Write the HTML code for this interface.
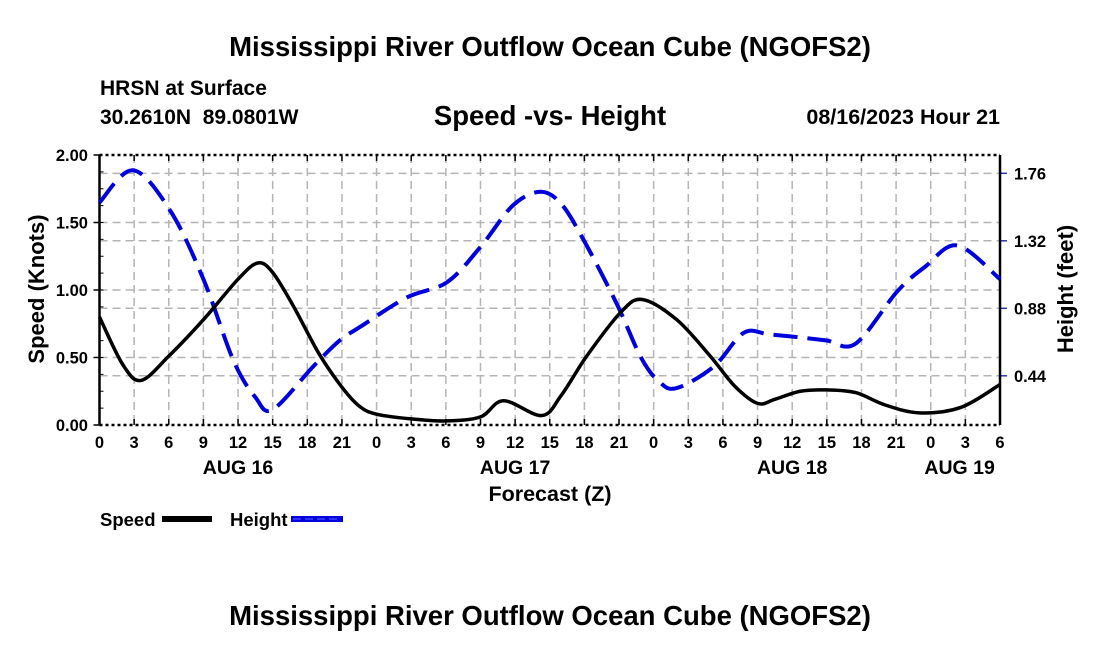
<!DOCTYPE html>
<html><head><meta charset="utf-8"><style>
body{margin:0;background:#fff;}
svg{display:block;font-family:"Liberation Sans",Arial,sans-serif;font-weight:bold;}
</style></head><body>
<svg id="c" width="1100" height="650" viewBox="0 0 1100 650">
<text x="550" y="56" text-anchor="middle" font-size="27.5">Mississippi River Outflow Ocean Cube (NGOFS2)</text>
<text x="100" y="95" font-size="21">HRSN at Surface</text>
<text x="100" y="124" font-size="21">30.2610N&#160; 89.0801W</text>
<text x="550" y="125" text-anchor="middle" font-size="27.5">Speed -vs- Height</text>
<text x="1000" y="124" text-anchor="end" font-size="21.5">08/16/2023 Hour 21</text>
<g id="grid"></g>
<g id="axes"></g>
<g id="series"></g>
<text transform="translate(44,289) rotate(-90)" text-anchor="middle" font-size="22">Speed (Knots)</text>
<text transform="translate(1073,289) rotate(-90)" text-anchor="middle" font-size="22">Height (feet)</text>
<text x="550" y="501" text-anchor="middle" font-size="21.5">Forecast (Z)</text>
<g>
<text x="100" y="526" font-size="18.5">Speed</text>
<rect x="162" y="516" width="50" height="6" fill="#000"/>
<text x="230" y="526" font-size="18.5">Height</text>
<rect x="291" y="516" width="52" height="6" fill="#0000dd"/>
<line x1="293" y1="519" x2="341" y2="519" stroke="#4040ff" stroke-width="1.5" stroke-dasharray="8 4"/>
</g>
<text x="550" y="625" text-anchor="middle" font-size="27.5">Mississippi River Outflow Ocean Cube (NGOFS2)</text>
</svg>
<script>
const speedHours=[0,2,3.6,6,9,12,13.7,15,16.8,19,21,22.5,24,27,30,33,35,38.3,40,42.2,45.1,47,50,52.9,55,57,58.5,60.7,63,65.5,68,71,74.6,78];
const speedVals=[0.80,0.45,0.33,0.51,0.78,1.08,1.20,1.13,0.88,0.53,0.28,0.14,0.08,0.045,0.03,0.06,0.18,0.07,0.22,0.51,0.83,0.93,0.78,0.51,0.29,0.16,0.19,0.25,0.26,0.24,0.15,0.09,0.13,0.30];
const heightHours=[0,2.9,6.1,9,11.6,13.5,15,18.5,20.8,22.6,26.6,30.1,33,35.8,38.2,40,41.9,44.8,46.9,48.5,50,53.2,55.8,58,60.7,63,65.5,69.1,71.5,74.3,78];
const heightVals=[1.57,1.78,1.52,1.07,0.54,0.30,0.22,0.50,0.67,0.76,0.95,1.05,1.28,1.55,1.64,1.56,1.33,0.91,0.56,0.40,0.36,0.50,0.72,0.71,0.69,0.67,0.65,0.99,1.15,1.29,1.07];
const speedTicks=["0.00","0.50","1.00","1.50","2.00"];
const heightTicks=["0.44","0.88","1.32","1.76"];
const hourLabels=["0","3","6","9","12","15","18","21","0","3","6","9","12","15","18","21","0","3","6","9","12","15","18","21","0","3","6"];
const dayLabels=["AUG 16","AUG 17","AUG 18","AUG 19"];
const dayHours=[12,36,60,74.5];

const X0=99.5,X1=1000,Y0=425,Y1=155,HMAX=78;
const xs=h=>X0+(X1-X0)*h/HMAX;
const ys=v=>Y0-(Y0-Y1)*v/2;
const yh=v=>443.3-153.4*v;
const NS="http://www.w3.org/2000/svg";
function mk(tag,attrs,parent){const e=document.createElementNS(NS,tag);for(const k in attrs)e.setAttribute(k,attrs[k]);parent.appendChild(e);return e;}
const grid=document.getElementById('grid'),axes=document.getElementById('axes'),series=document.getElementById('series');
const gs={stroke:"#b4b4b4","stroke-width":1.5,"stroke-dasharray":"8 5",fill:"none"};
hourLabels.forEach((l,i)=>{const x=xs(i*3);
 if(i>0&&i<hourLabels.length-1){const g=mk('line',Object.assign({x1:x,x2:x,y1:Y1,y2:Y0},gs),grid);}
 mk('line',{x1:x,x2:x,y1:Y0,y2:Y0-6,stroke:"#000","stroke-width":1.5},axes);
 mk('line',{x1:x,x2:x,y1:Y1,y2:Y1+6,stroke:"#000","stroke-width":1.5},axes);
 const t=mk('text',{x:x,y:448,"text-anchor":"middle","font-size":16.5},axes);t.textContent=l;
 });
dayLabels.forEach((l,i)=>{const t=mk('text',{x:xs(dayHours[i]),y:474,"text-anchor":"middle","font-size":19.5},axes);t.textContent=l;
 });
speedTicks.forEach(l=>{const v=parseFloat(l),y=ys(v);
 if(v>0&&v<2){const g=mk('line',Object.assign({x1:X0,x2:X1,y1:y,y2:y},gs),grid);}
 mk('line',{x1:X0-6,x2:X0,y1:y,y2:y,stroke:"#000","stroke-width":1.5},axes);
 const t=mk('text',{x:88,y:y+6,"text-anchor":"end","font-size":16.5},axes);t.textContent=l;
 });
for(let v=0.125;v<2;v+=0.125){mk('line',{x1:X0,x2:X0+4,y1:ys(v),y2:ys(v),stroke:"#000","stroke-width":1},axes);}
heightTicks.forEach(l=>{const y=yh(parseFloat(l));
 const g=mk('line',Object.assign({x1:X0,x2:X1,y1:y,y2:y},gs),grid);
 mk('line',{x1:X1,x2:X1+7,y1:y,y2:y,stroke:"#3030c0","stroke-width":1.5},axes);
 const t=mk('text',{x:1014,y:y+6,"font-size":16.5},axes);t.textContent=l;
 });
mk('line',{x1:X0,x2:X0,y1:Y1,y2:Y0,stroke:"#000","stroke-width":2.5},axes);
mk('line',{x1:X1,x2:X1,y1:Y1,y2:Y0,stroke:"#000","stroke-width":2.5},axes);
mk('line',{x1:X0,x2:X1,y1:Y0,y2:Y0,stroke:"#000","stroke-width":2.5,"stroke-dasharray":"3 3"},axes);
mk('line',{x1:X0,x2:X1,y1:Y1,y2:Y1,stroke:"#000","stroke-width":2.5,"stroke-dasharray":"3 3"},axes);
function path(pts){let d=`M${pts[0][0]},${pts[0][1]}`;
 for(let i=0;i<pts.length-1;i++){const p0=pts[Math.max(0,i-1)],p1=pts[i],p2=pts[i+1],p3=pts[Math.min(pts.length-1,i+2)];
  const c1=[p1[0]+(p2[0]-p0[0])/6,p1[1]+(p2[1]-p0[1])/6],c2=[p2[0]-(p3[0]-p1[0])/6,p2[1]-(p3[1]-p1[1])/6];
  d+=` C${c1[0]},${c1[1]} ${c2[0]},${c2[1]} ${p2[0]},${p2[1]}`;}return d;}
const hp=mk('path',{d:path(heightHours.map((h,i)=>[xs(h),yh(heightVals[i])])),stroke:"#0000dd","stroke-width":4,fill:"none","stroke-dasharray":"24 10"},series);

const sp=mk('path',{d:path(speedHours.map((h,i)=>[xs(h),ys(speedVals[i])])),stroke:"#000","stroke-width":3.5,fill:"none"},series);

</script>
</body></html>
